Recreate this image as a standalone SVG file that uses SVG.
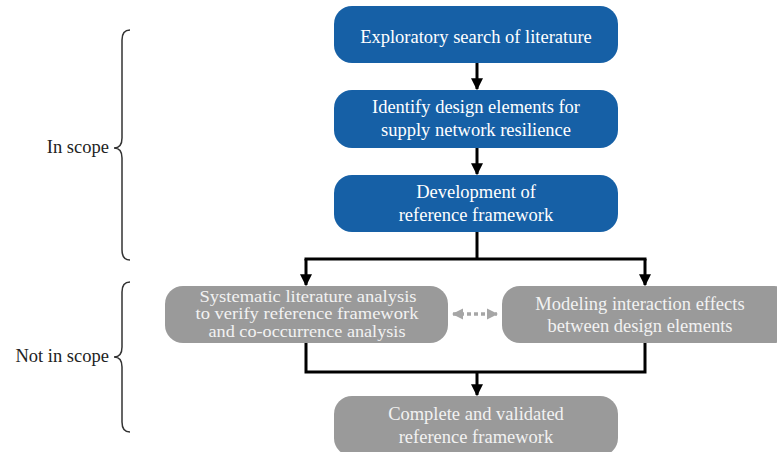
<svg xmlns="http://www.w3.org/2000/svg" width="777" height="452" viewBox="0 0 777 452">
<style>
.blue{fill:#1660a6}
.gray{fill:#9a9a9a}
.t{font-family:"Liberation Serif","Times New Roman",serif;font-size:18.5px;fill:#ffffff;text-anchor:middle}
.tg{font-family:"Liberation Serif","Times New Roman",serif;font-size:18.5px;fill:#f2f2f2;text-anchor:middle}
.ts{font-family:"Liberation Serif","Times New Roman",serif;font-size:16px;fill:#f2f2f2;text-anchor:middle}
.lbl{font-family:"Liberation Serif","Times New Roman",serif;font-size:18.5px;fill:#222;text-anchor:end}
.ln{fill:none;stroke:#000;stroke-width:3}
.br{fill:none;stroke:#333;stroke-width:1.5}
</style>
<defs>
<marker id="ah" viewBox="0 0 10 10" refX="9" refY="5" markerWidth="4" markerHeight="4" orient="auto" markerUnits="strokeWidth">
<path d="M0,0 L10,5 L0,10 z" fill="#000"/>
</marker>
<marker id="ahg" viewBox="0 0 10 10" refX="9" refY="5" markerWidth="3.2" markerHeight="3.2" orient="auto-start-reverse" markerUnits="strokeWidth">
<path d="M0,0 L10,5 L0,10 z" fill="#a6a6a6"/>
</marker>
</defs>
<rect width="777" height="452" fill="#ffffff"/>
<g id="connectors">
<line class="ln" x1="477" y1="63" x2="477" y2="89" marker-end="url(#ah)"/>
<line class="ln" x1="477" y1="148" x2="477" y2="174" marker-end="url(#ah)"/>
<line class="ln" x1="477" y1="232" x2="477" y2="259"/>
<line class="ln" x1="304.5" y1="259" x2="646.5" y2="259"/>
<line class="ln" x1="306" y1="259" x2="306" y2="285" marker-end="url(#ah)"/>
<line class="ln" x1="645" y1="259" x2="645" y2="285" marker-end="url(#ah)"/>
<polyline class="ln" points="306,343 306,372 645,372 645,343"/>
<line class="ln" x1="477" y1="372" x2="477" y2="395" marker-end="url(#ah)"/>
<line x1="453" y1="314" x2="497" y2="314" stroke="#a6a6a6" stroke-width="3.5" stroke-dasharray="4,3" marker-start="url(#ahg)" marker-end="url(#ahg)"/>
</g>
<g id="node-exploratory">
<rect class="blue" x="334" y="6" width="284" height="57" rx="18"/>
<text class="t" x="476" y="43">Exploratory search of literature</text>
</g>
<g id="node-identify">
<rect class="blue" x="334" y="90" width="284" height="58" rx="18"/>
<text class="t" x="476" y="113">Identify design elements for</text>
<text class="t" x="476" y="136">supply network resilience</text>
</g>
<g id="node-development">
<rect class="blue" x="334" y="175" width="284" height="57" rx="18"/>
<text class="t" x="476" y="198">Development of</text>
<text class="t" x="476" y="221">reference framework</text>
</g>
<g id="node-systematic">
<rect class="gray" x="165" y="286" width="283" height="57" rx="18"/>
<text class="ts" x="308" y="301.5" textLength="217" lengthAdjust="spacingAndGlyphs">Systematic literature analysis</text>
<text class="ts" x="307" y="319.3" textLength="223" lengthAdjust="spacingAndGlyphs">to verify reference framework</text>
<text class="ts" x="307" y="337.1" textLength="197" lengthAdjust="spacingAndGlyphs">and co-occurrence analysis</text>
</g>
<g id="node-modeling">
<rect class="gray" x="502" y="286" width="290" height="57" rx="18"/>
<text class="tg" x="640" y="310">Modeling interaction effects</text>
<text class="tg" x="640" y="332">between design elements</text>
</g>
<g id="node-complete">
<rect class="gray" x="334" y="396" width="284" height="60" rx="18"/>
<text class="tg" x="476" y="420">Complete and validated</text>
<text class="tg" x="476" y="443">reference framework</text>
</g>
<g id="brace-in-scope">
<path class="br" d="M130,30 Q122,30 122,40 L122,138 Q122,148 114,148 Q122,148 122,158 L122,250 Q122,260 130,260"/>
<text class="lbl" x="109" y="153">In scope</text>
</g>
<g id="brace-not-in-scope">
<path class="br" d="M130,282 Q122,282 122,292 L122,347 Q122,357 114,357 Q122,357 122,367 L122,422 Q122,432 130,432"/>
<text class="lbl" x="109" y="362">Not in scope</text>
</g>
</svg>
